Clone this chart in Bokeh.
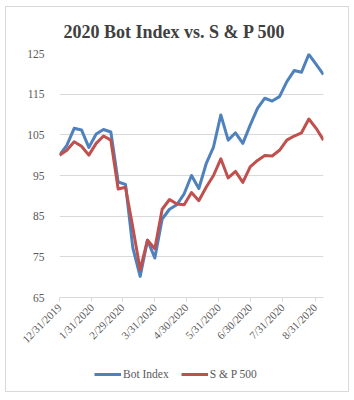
import pandas as pd
from bokeh.plotting import figure
from bokeh.layouts import column
from bokeh.models import (FixedTicker, CustomJSTickFormatter, Legend, LegendItem,
                          Range1d, Title)
from bokeh.embed import file_html
from bokeh.resources import INLINE

# ---- data (weekly) ----
start_date = "2019-12-31"
n_weeks = 37
dates = pd.date_range(start_date, periods=n_weeks, freq="7D")

bot_index = [100.0, 102.4, 106.6, 106.2, 101.9, 105.2, 106.3, 105.7, 93.4, 92.8,
             77.2, 70.2, 79.1, 74.7, 84.3, 86.7, 87.8, 90.5, 95.0, 91.8,
             97.9, 102.0, 109.9, 103.7, 105.5, 102.9, 107.4, 111.5, 114.0, 113.3,
             114.4, 118.1, 120.8, 120.4, 124.8, 122.3, 119.8]
sp500 = [100.0, 101.2, 103.3, 102.2, 100.0, 102.9, 104.7, 103.7, 91.7, 92.1,
         82.2, 71.8, 79.1, 77.0, 86.7, 89.1, 88.0, 87.8, 90.8, 88.8,
         92.1, 95.0, 99.1, 94.4, 96.0, 93.3, 97.1, 98.7, 99.9, 99.8,
         101.2, 103.7, 104.7, 105.5, 108.9, 106.6, 103.7]

month_ticks = ["2019-12-31", "2020-01-31", "2020-02-29", "2020-03-31", "2020-04-30",
               "2020-05-31", "2020-06-30", "2020-07-31", "2020-08-31"]
y_ticks = [65, 75, 85, 95, 105, 115, 125]

title_text = "2020 Bot Index vs. S & P 500"
series_names = ["Bot Index", "S & P 500"]
colors = ["#4F81BD", "#C0504D"]

FONT = "Liberation Serif"
LABEL_COLOR = "#595959"
GRID_COLOR = "#d9d9d9"

p = figure(width=342, height=345, x_axis_type="datetime",
           output_backend="svg", toolbar_location=None,
           min_border_left=53, min_border_right=25, min_border_top=46,
           min_border_bottom=52)

p.x_range = Range1d(dates[0], dates[-1])
p.y_range = Range1d(y_ticks[0], y_ticks[-1])

r1 = p.line(dates, bot_index, line_color=colors[0], line_width=3, line_join="round")
r2 = p.line(dates, sp500, line_color=colors[1], line_width=3, line_join="round")

# title
t = Title(text=title_text, align="left", offset=4, text_font=FONT,
          text_font_size="18px", text_font_style="bold", text_color="#404040",
          standoff=24)
p.add_layout(t, "above")

# axes
p.outline_line_color = None
p.xgrid.grid_line_color = None
p.ygrid.grid_line_color = GRID_COLOR
p.ygrid.grid_line_width = 1

p.yaxis.ticker = FixedTicker(ticks=y_ticks)
p.yaxis.axis_line_color = None
p.yaxis.major_tick_line_color = None
p.yaxis.minor_tick_line_color = None
p.yaxis.major_label_text_font = FONT
p.yaxis.major_label_text_font_size = "11.5px"
p.yaxis.major_label_text_color = LABEL_COLOR
p.yaxis.major_label_standoff = 9

tick_ms = [pd.Timestamp(d).value / 1e6 for d in month_ticks]
p.xaxis.ticker = FixedTicker(ticks=tick_ms)
p.xaxis.formatter = CustomJSTickFormatter(code="""
const d = new Date(tick);
return (d.getUTCMonth()+1) + "/" + d.getUTCDate() + "/" + d.getUTCFullYear();
""")
p.xaxis.axis_line_color = GRID_COLOR
p.xaxis.major_tick_line_color = GRID_COLOR
p.xaxis.major_tick_in = 0
p.xaxis.major_tick_out = 4
p.xaxis.minor_tick_line_color = None
p.xaxis.major_label_orientation = 0.785398
p.xaxis.major_label_text_font = FONT
p.xaxis.major_label_text_font_size = "11px"
p.xaxis.major_label_text_color = LABEL_COLOR
p.xaxis.major_label_standoff = 4

# legend strip (separate figure so the legend isn't clipped by the main frame);
# its series lie outside this strip's ranges, so only the legend shows.
lp = figure(width=342, height=39, output_backend="svg", toolbar_location=None,
            min_border=0, x_range=Range1d(0, 1), y_range=Range1d(0, 1))
lp.axis.visible = False
lp.grid.visible = False
lp.outline_line_color = None
l1 = lp.line(dates, bot_index, line_color=colors[0], line_width=3)
l2 = lp.line(dates, sp500, line_color=colors[1], line_width=3)
legend = Legend(items=[LegendItem(label=series_names[0], renderers=[l1]),
                       LegendItem(label=series_names[1], renderers=[l2])],
                orientation="horizontal", location=(35, 11),
                label_text_font=FONT, label_text_font_size="11.5px",
                label_text_color=LABEL_COLOR, glyph_width=27, glyph_height=12,
                label_standoff=2, spacing=12, padding=0, margin=0,
                border_line_color=None, background_fill_alpha=0)
lp.add_layout(legend, "center")

layout = column(p, lp, spacing=0, margin=(6, 6, 10, 5),
                styles={"border": "1px solid #d9d9d9"})

open("out.html", "w").write(file_html(layout, INLINE))
